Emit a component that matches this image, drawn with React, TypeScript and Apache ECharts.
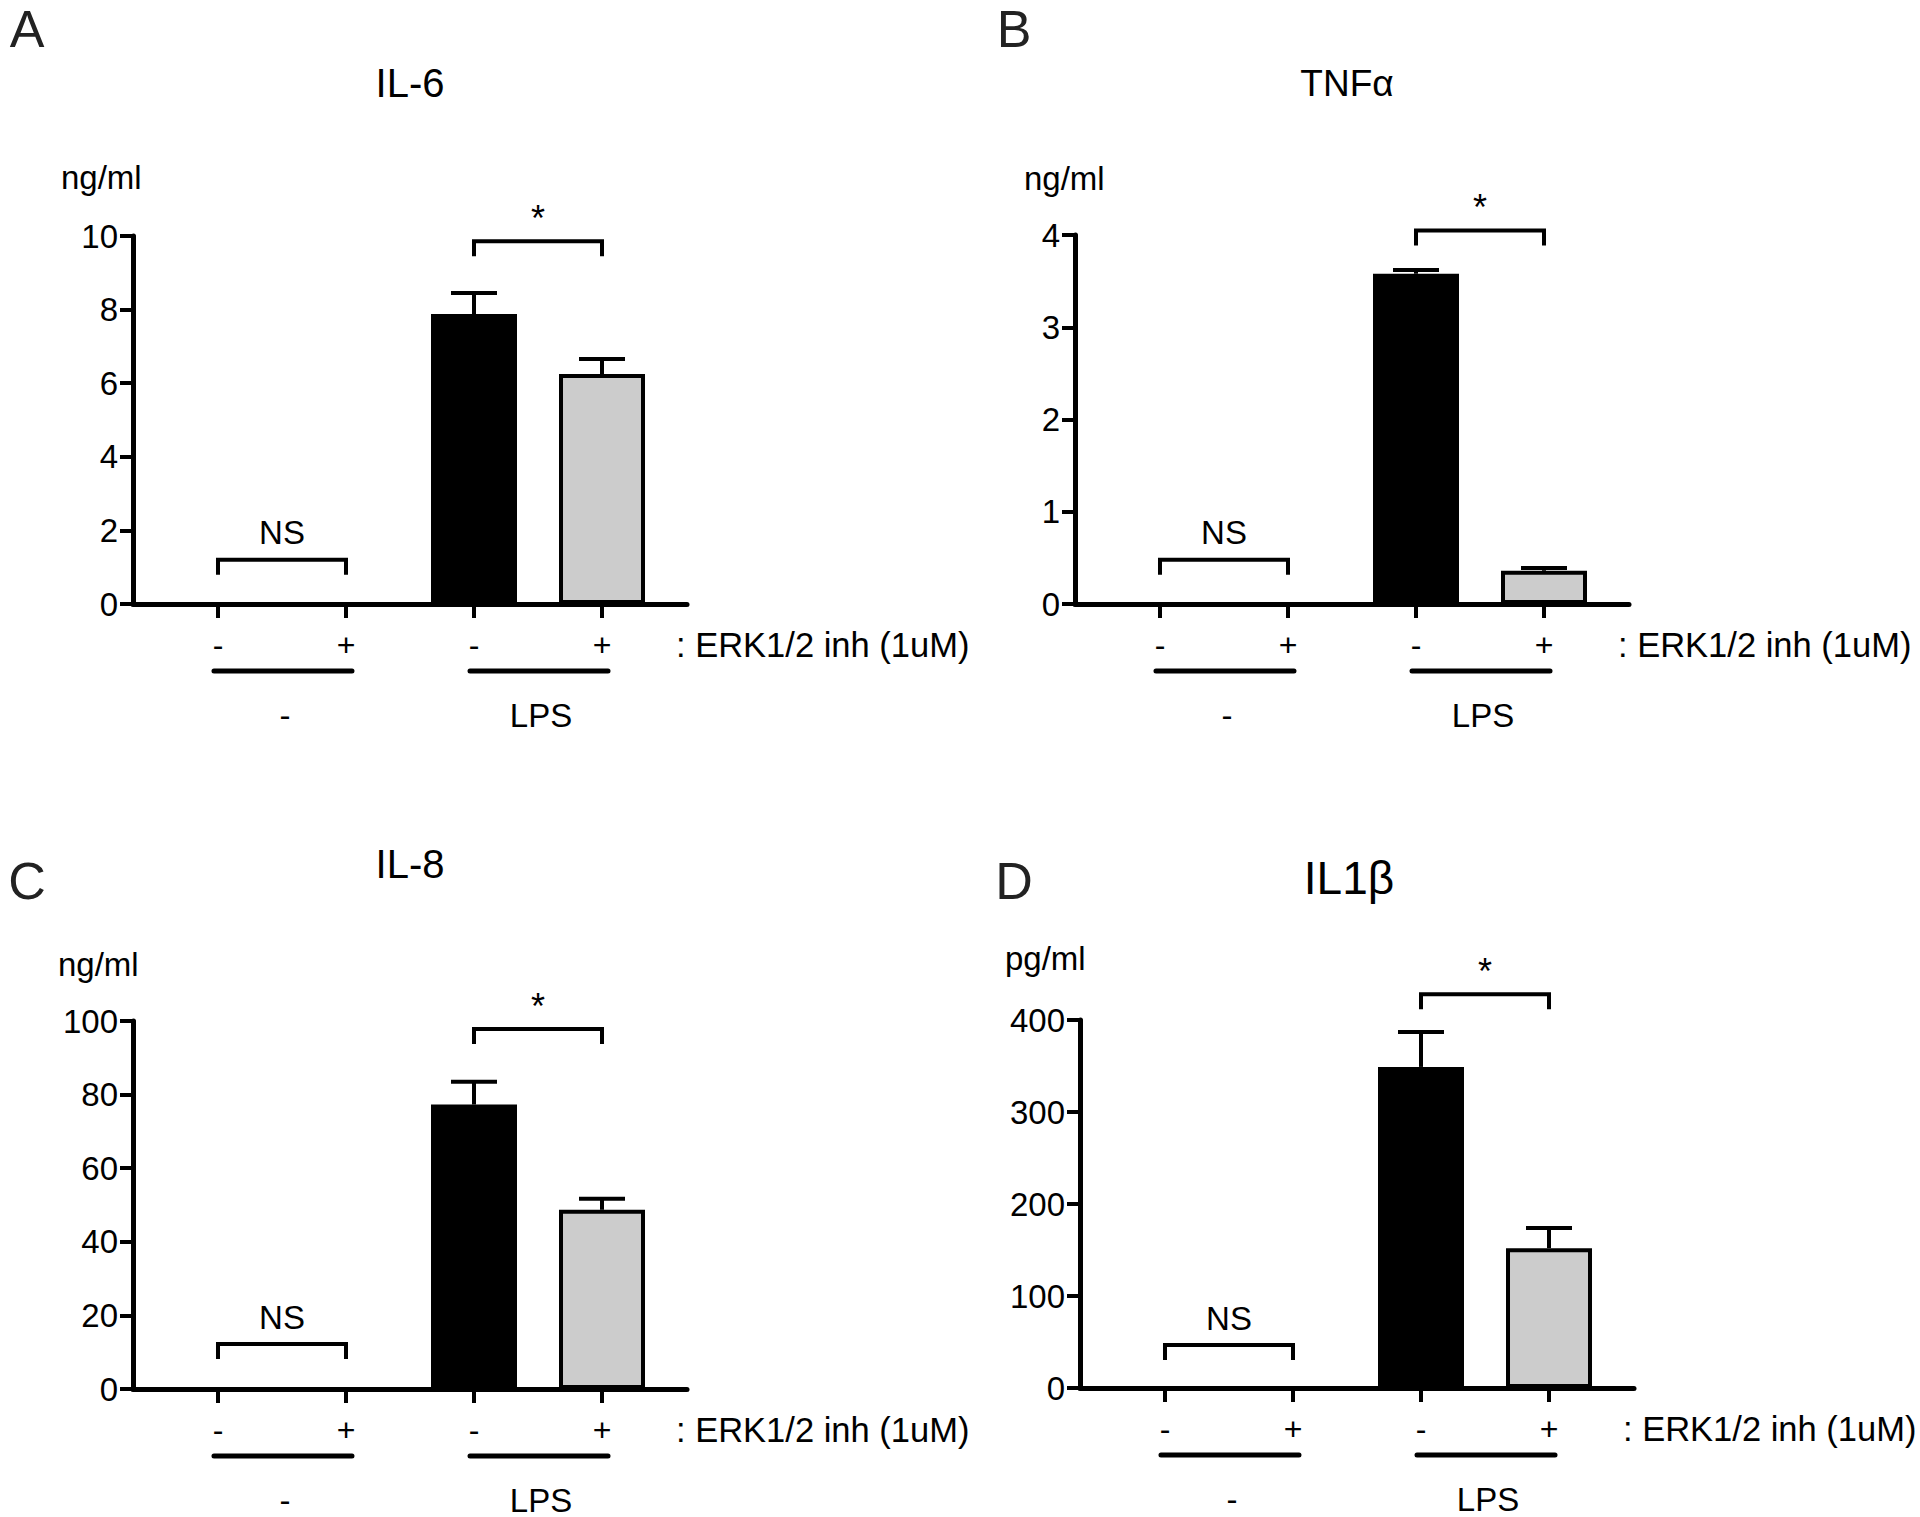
import React, { useEffect, useRef } from "react";
import * as echarts from "echarts";

// ---------- data ----------
const conditionLabels = ["-", "+", "-", "+"];
const groupLabels = ["-", "LPS"];
const inhibitorLabel = ": ERK1/2 inh (1uM)";
const panelLetters = ["A", "B", "C", "D"];
const panelTitles = ["IL-6", "TNFα", "IL-8", "IL1β"];
const unitLabels = ["ng/ml", "ng/ml", "ng/ml", "pg/ml"];
const yMaxes = [10, 4, 100, 400];
const yIntervals = [2, 1, 20, 100];

const il6Mean = [0, 0, 7.88, 6.25];
const il6Sem = [0, 0, 0.57, 0.41];
const tnfMean = [0, 0, 3.58, 0.36];
const tnfSem = [0, 0, 0.04, 0.03];
const il8Mean = [0, 0, 77.3, 48.7];
const il8Sem = [0, 0, 6.2, 3.0];
const il1bMean = [0, 0, 349, 152];
const il1bSem = [0, 0, 38, 22];

const bracketLabels = ["NS", "*"];
const il6Brackets = [[0, 1, 1.2], [2, 3, 9.86]];
const tnfBrackets = [[0, 1, 0.48], [2, 3, 4.05]];
const il8Brackets = [[0, 1, 12.2], [2, 3, 97.8]];
const il1bBrackets = [[0, 1, 46.7], [2, 3, 428]];

const groupSpans = [[0, 1], [2, 3]];

const allMeans = [il6Mean, tnfMean, il8Mean, il1bMean];
const allSems = [il6Sem, tnfSem, il8Sem, il1bSem];
const allBrackets = [il6Brackets, tnfBrackets, il8Brackets, il1bBrackets];

// ---------- layout ----------
const FONT = "'Liberation Sans', Arial, Helvetica, sans-serif";
const layout = [
  { left: 133, top: 236, width: 554, height: 368, letter: [27, 29], title: [410, 83], titleSize: 40, unit: [61, 177] },
  { left: 1075, top: 235, width: 554, height: 369, letter: [1014, 29], title: [1347, 83], titleSize: 37, unit: [1024, 178] },
  { left: 133, top: 1021, width: 554, height: 368, letter: [27, 881], title: [410, 864], titleSize: 40, unit: [58, 964] },
  { left: 1080, top: 1020, width: 554, height: 368, letter: [1014, 881], title: [1349, 878], titleSize: 46, unit: [1005, 958] },
];
const X_MIN = -0.664;
const X_MAX = 3.664;

function buildOption() {
  const grid: any[] = [];
  const xAxis: any[] = [];
  const yAxis: any[] = [];
  const series: any[] = [];
  const graphic: any[] = [];

  layout.forEach((L, i) => {
    grid.push({ left: L.left, top: L.top, width: L.width, height: L.height, containLabel: false });
    xAxis.push({
      type: "value",
      gridIndex: i,
      min: X_MIN,
      max: X_MAX,
      axisLine: { show: true, onZero: false, lineStyle: { color: "#000", width: 5 } },
      axisTick: { show: true, customValues: [0, 1, 2, 3], length: 14, lineStyle: { color: "#000", width: 4 } },
      axisLabel: {
        show: true,
        customValues: [0, 1, 2, 3],
        formatter: (v: number) => conditionLabels[Math.round(v)] ?? "",
        margin: 41,
        verticalAlign: "middle",
        fontSize: 32,
        color: "#000",
        fontFamily: FONT,
      },
      splitLine: { show: false },
    });
    yAxis.push({
      type: "value",
      gridIndex: i,
      min: 0,
      max: yMaxes[i],
      interval: yIntervals[i],
      axisLine: { show: true, onZero: false, lineStyle: { color: "#000", width: 5 } },
      axisTick: { show: true, length: 13, lineStyle: { color: "#000", width: 4 } },
      axisLabel: { show: true, fontSize: 33, color: "#000", margin: 15, fontFamily: FONT },
      splitLine: { show: false },
    });

    const means = allMeans[i];
    const sems = allSems[i];
    series.push({
      type: "bar",
      xAxisIndex: i,
      yAxisIndex: i,
      barWidth: 86,
      data: means.map((m, k) => ({
        value: [k, m],
        itemStyle: {
          color: k % 2 === 0 ? "#000000" : "#cccccc",
          borderColor: "#000",
          borderWidth: m > 0 ? 4 : 0,
        },
      })),
      z: 2,
    });
    series.push({
      type: "custom",
      xAxisIndex: i,
      yAxisIndex: i,
      clip: false,
      z: 3,
      encode: { x: 0, y: 1 },
      data: means.map((m, k) => [k, m, sems[k]]),
      renderItem: (params: any, api: any) => {
        const x = api.value(0);
        const m = api.value(1);
        const s = api.value(2);
        if (!s) return null;
        const p0 = api.coord([x, m]);
        const p1 = api.coord([x, m + s]);
        const st = { stroke: "#000", lineWidth: 4 };
        return {
          type: "group",
          children: [
            { type: "line", shape: { x1: p0[0], y1: p0[1], x2: p1[0], y2: p1[1] }, style: st },
            { type: "line", shape: { x1: p1[0] - 23, y1: p1[1], x2: p1[0] + 23, y2: p1[1] }, style: st },
          ],
        };
      },
    });
    series.push({
      type: "custom",
      xAxisIndex: i,
      yAxisIndex: i,
      clip: false,
      z: 3,
      encode: { x: 0, y: 2 },
      data: allBrackets[i],
      renderItem: (params: any, api: any) => {
        const x1 = api.value(0);
        const x2 = api.value(1);
        const y = api.value(2);
        const a = api.coord([x1, y]);
        const b = api.coord([x2, y]);
        const label = bracketLabels[params.dataIndex];
        const isStar = label === "*";
        return {
          type: "group",
          children: [
            {
              type: "polyline",
              shape: { points: [[a[0], a[1] + 15], [a[0], a[1]], [b[0], a[1]], [b[0], a[1] + 15]] },
              style: { stroke: "#000", lineWidth: 4, fill: null },
            },
            {
              type: "text",
              x: (a[0] + b[0]) / 2,
              y: isStar ? a[1] - 23 : a[1] - 27,
              style: { text: label, fontSize: isStar ? 36 : 33, fontFamily: FONT, fill: "#000", align: "center", verticalAlign: "middle" },
            },
          ],
        };
      },
    });
    series.push({
      type: "custom",
      xAxisIndex: i,
      yAxisIndex: i,
      clip: false,
      z: 3,
      encode: { x: 0 },
      data: groupSpans.map((g) => [g[0], g[1], 0]),
      renderItem: (params: any, api: any) => {
        const a = api.coord([api.value(0), 0]);
        const b = api.coord([api.value(1), 0]);
        return {
          type: "group",
          children: [
            {
              type: "line",
              shape: { x1: a[0] - 4, y1: a[1] + 67, x2: b[0] + 6, y2: a[1] + 67 },
              style: { stroke: "#000", lineWidth: 5, lineCap: "round" },
            },
            {
              type: "text",
              x: (a[0] + b[0]) / 2 + 3,
              y: a[1] + 111,
              style: { text: groupLabels[params.dataIndex], fontSize: 33, fontFamily: FONT, fill: "#000", align: "center", verticalAlign: "middle" },
            },
          ],
        };
      },
    });

    graphic.push({
      type: "text", x: L.letter[0], y: L.letter[1],
      style: { text: panelLetters[i], fontSize: 52, fontFamily: FONT, fill: "#222", align: "center", verticalAlign: "middle" },
    });
    graphic.push({
      type: "text", x: L.title[0], y: L.title[1],
      style: { text: panelTitles[i], fontSize: L.titleSize, fontFamily: FONT, fill: "#000", align: "center", verticalAlign: "middle" },
    });
    graphic.push({
      type: "text", x: L.unit[0], y: L.unit[1],
      style: { text: unitLabels[i], fontSize: 33, fontFamily: FONT, fill: "#000", align: "left", verticalAlign: "middle" },
    });
    graphic.push({
      type: "text", x: L.left + L.width - 11, y: L.top + L.height + 41,
      style: { text: inhibitorLabel, fontSize: 34.5, fontFamily: FONT, fill: "#000", align: "left", verticalAlign: "middle" },
    });
  });

  return {
    animation: false,
    backgroundColor: "#ffffff",
    textStyle: { fontFamily: FONT },
    grid,
    xAxis,
    yAxis,
    series,
    graphic,
  };
}

export default function App() {
  const ref = useRef<HTMLDivElement>(null);
  useEffect(() => {
    if (!ref.current) return;
    const chart = echarts.init(ref.current, undefined, { renderer: "svg" });
    chart.setOption(buildOption() as any);
    return () => chart.dispose();
  }, []);
  return (
    <div
      ref={ref}
      style={{ position: "absolute", left: 0, top: 0, width: 1920, height: 1517, background: "#fff" }}
    />
  );
}
